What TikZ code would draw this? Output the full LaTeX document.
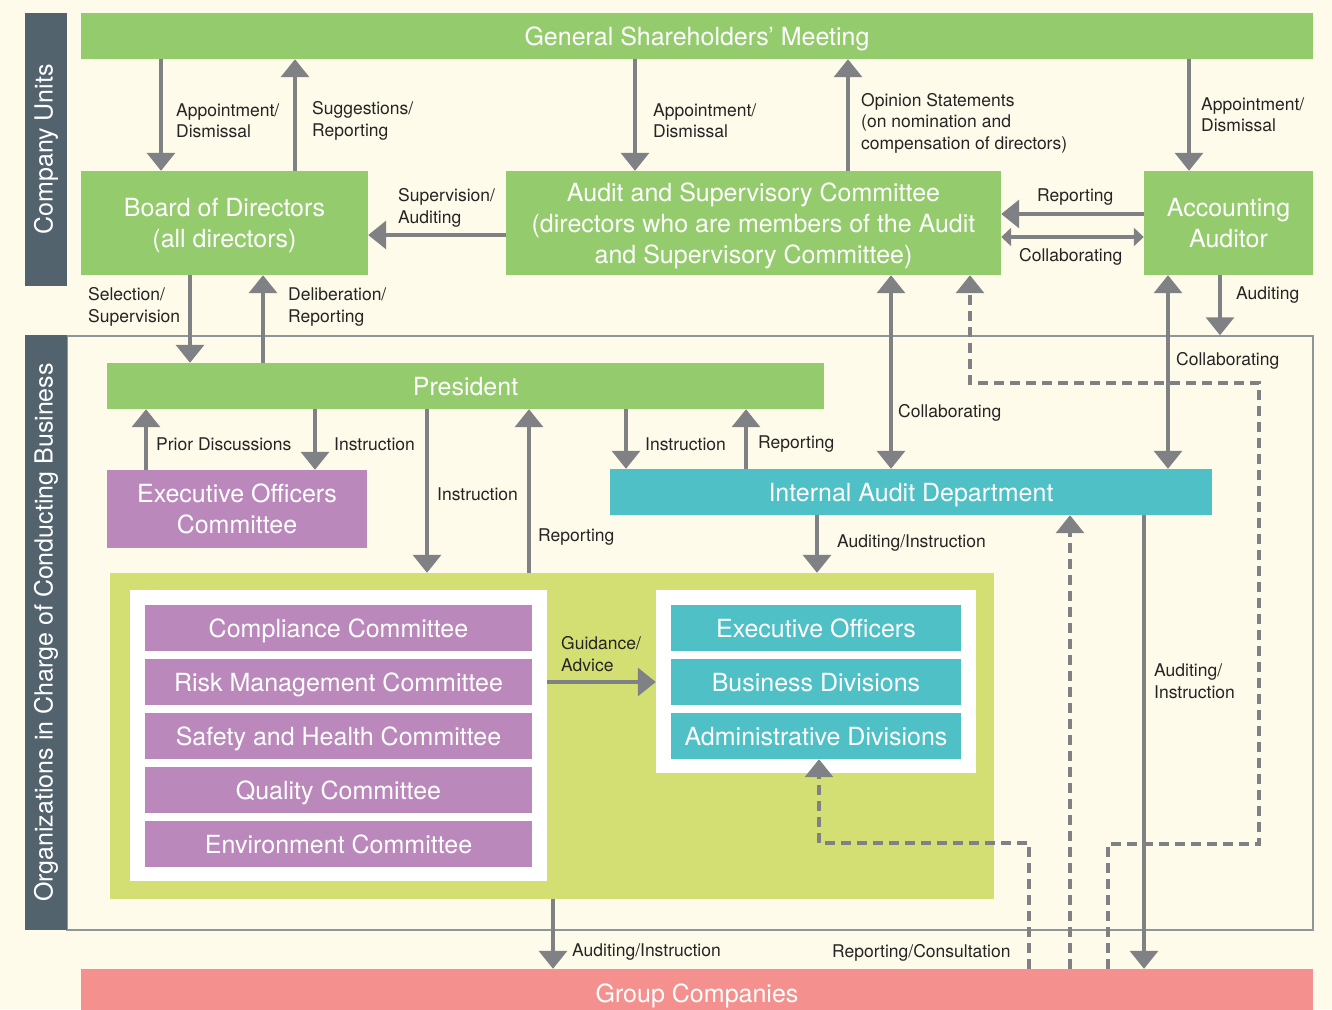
\documentclass[tikz,border=0pt]{standalone}
\usepackage{fontspec}
\setmainfont{TeX Gyre Heros}
\usepackage{xcolor}
\usepackage{tikz}
\usetikzlibrary{arrows.meta,positioning}
\definecolor{bgcream}   {RGB}{254,251,234}
\definecolor{boxgreen}  {RGB}{148,203,108}
\definecolor{boxpurple} {RGB}{186,136,187}
\definecolor{boxteal}   {RGB}{78,192,198}
\definecolor{boxolive}  {RGB}{212,223,115}
\definecolor{boxsalmon} {RGB}{244,145,142}
\definecolor{barslate}  {RGB}{82,99,110}
\definecolor{arrowgray} {RGB}{128,129,133}
\definecolor{framegray} {RGB}{140,150,155}
\definecolor{labelgray} {RGB}{38,36,36}
\newcommand\boxfont{\fontsize{25}{31}\selectfont}
\newcommand\lblfont{\fontsize{17.5}{21.5}\selectfont}

\begin{document}
\begin{tikzpicture}[x=1pt,y=-1pt,
  box/.style={inner sep=0pt,text=white,align=center,font=\boxfont,text depth=0pt},
  gbox/.style={box,fill=boxgreen},
  pbox/.style={box,fill=boxpurple,minimum width=387pt,minimum height=46pt},
  tbox/.style={box,fill=boxteal,minimum width=290pt,minimum height=46pt},
  bar/.style={fill=barslate,inner sep=0pt,minimum width=42pt,text=white,
              font=\boxfont,rotate=90},
  lbl/.style={font=\lblfont,text=labelgray,align=left,anchor=west,inner sep=0pt},
  arr/.style={draw=arrowgray,line width=3.5pt,-{Triangle[width=28pt,length=18pt]}},
  dbl/.style={draw=arrowgray,line width=3.5pt,
              {Triangle[width=28pt,length=18pt]}-{Triangle[width=28pt,length=18pt]}},
  sdbl/.style={draw=arrowgray,line width=3.5pt,
              {Triangle[width=18pt,length=10pt]}-{Triangle[width=18pt,length=10pt]}},
  dashln/.style={arr,dash pattern=on 10pt off 6pt},
]
\useasboundingbox (0,0) rectangle (1332,1009);
\fill[bgcream] (0,0) rectangle (1332,1009);

%% Frame of the business organisations
\node[draw=framegray,line width=1.5pt,inner sep=0pt,
      minimum width=1246pt,minimum height=594pt] (biz) at (690,633) {};

%% Side bars
\node[bar,minimum height=42pt,minimum width=273pt] (cubar) at (46,149.5) {Company Units};
\node[bar,minimum height=42pt,minimum width=595pt] (orgbar) at (46,632.5)
  {Organizations in Charge of Conducting Business};

%% Company units
\node[gbox,minimum width=1232pt,minimum height=46pt] (gsm) at (697,36)
  {General Shareholders’ Meeting};
\node[gbox,minimum width=287pt,minimum height=104pt] (bod) at (224.5,223)
  {Board of Directors\\(all directors)};
\node[gbox,minimum width=495pt,minimum height=104pt] (asc) at (753.5,223)
  {Audit and Supervisory Committee\\(directors who are members of the Audit\\and Supervisory Committee)};
\node[gbox,minimum width=169pt,minimum height=104pt] (aud) at (1228.5,223)
  {Accounting\\Auditor};

%% Business organisations
\node[gbox,minimum width=717pt,minimum height=46pt] (pres) at (465.5,386) {President};
\node[box,fill=boxpurple,minimum width=260pt,minimum height=78pt] (eoc) at (237,509)
  {Executive Officers\\Committee};
\node[box,fill=boxteal,minimum width=602pt,minimum height=46pt] (iad) at (911,492)
  {Internal Audit Department};
\node[fill=boxolive,minimum width=884pt,minimum height=326pt,inner sep=0pt] (olive) at (552,736) {};
\node[fill=white,minimum width=417pt,minimum height=291pt,inner sep=0pt] (lwhite) at (338.5,735.5) {};
\node[fill=white,minimum width=320pt,minimum height=183pt,inner sep=0pt] (rwhite) at (816,681.5) {};

%% Committees and divisions
\foreach \name/\txt [count=\i from 0] in {
  comp/Compliance Committee, risk/Risk Management Committee,
  safety/Safety and Health Committee, quality/Quality Committee,
  env/Environment Committee}{
  \node[pbox] (\name) at (338.5,628+\i*54) {\txt};
}
\foreach \name/\txt [count=\i from 0] in {
  eo/Executive Officers, busdiv/Business Divisions,
  admdiv/Administrative Divisions}{
  \node[tbox] (\name) at (816,628+\i*54) {\txt};
}

%% Group companies (runs off the page edge)
\node[box,fill=boxsalmon,minimum width=1232pt,minimum height=48pt] (grp) at (697,993)
  {Group Companies};

%% Dashed reporting lines
\draw[dashln] (1108,0 |- grp.north) -- (1108,844) -- (1259,844) -- (1259,383)
  -- (970,383) -- (970,0 |- asc.south);
\draw[dashln] (1029,0 |- grp.north) -- (1029,843) -- (819,843) -- (819,0 |- admdiv.south);
\draw[dashln] (1070,0 |- grp.north) -- (1070,0 |- iad.south);

%% Company unit arrows
\draw[arr] (161,0 |- gsm.south) -- (161,0 |- bod.north);
\draw[arr] (295,0 |- bod.north) -- (295,0 |- gsm.south);
\draw[arr] (635,0 |- gsm.south) -- (635,0 |- asc.north);
\draw[arr] (848,0 |- asc.north) -- (848,0 |- gsm.south);
\draw[arr] (1189,0 |- gsm.south) -- (1189,0 |- aud.north);
\draw[arr] (0,235 -| asc.west) -- (0,235 -| bod.east);
\draw[arr] (0,214 -| aud.west) -- (0,214 -| asc.east);
\draw[sdbl] (0,237 -| asc.east) -- (0,237 -| aud.west);

%% Between the two levels
\draw[arr] (190,0 |- bod.south) -- (190,0 |- pres.north);
\draw[arr] (263,0 |- pres.north) -- (263,0 |- bod.south);
\draw[dbl] (891,0 |- asc.south) -- (891,0 |- iad.north);
\draw[dbl] (1168,0 |- aud.south) -- (1168,0 |- iad.north);
\draw[arr] (1220,0 |- aud.south) -- (1220,0 |- biz.north);

%% Business organisation arrows
\draw[arr] (315,0 |- pres.south) -- (315,0 |- eoc.north);
\draw[arr] (146,0 |- eoc.north) -- (146,0 |- pres.south);
\draw[arr] (427,0 |- pres.south) -- (427,0 |- olive.north);
\draw[arr] (529,0 |- olive.north) -- (529,0 |- pres.south);
\draw[arr] (626,0 |- pres.south) -- (626,0 |- iad.north);
\draw[arr] (746,0 |- iad.north) -- (746,0 |- pres.south);
\draw[arr] (817,0 |- iad.south) -- (817,0 |- olive.north);
\draw[arr] (0,682 -| lwhite.east) -- (0,682 -| rwhite.west);
\draw[arr] (1144,0 |- iad.south) -- (1144,0 |- grp.north);
\draw[arr] (553,0 |- olive.south) -- (553,0 |- grp.north);

%% Labels
\node[lbl] (l-apbod) at (176,121) {Appointment/\\Dismissal};
\node[lbl] (l-sugg) at (312,121) {Suggestions/\\Reporting};
\node[lbl] (l-apasc) at (653,121) {Appointment/\\Dismissal};
\node[lbl] (l-opin) at (861,123)
  {Opinion Statements\\(on nomination and\\compensation of directors)};
\node[lbl] (l-apaud) at (1201,115) {Appointment/\\Dismissal};
\node[lbl] (l-supv) at (398,208) {Supervision/\\Auditing};
\node[lbl] (l-rep1) at (1037,197) {Reporting};
\node[lbl] (l-coll1) at (1019,257) {Collaborating};
\node[lbl] (l-sel) at (88,307) {Selection/\\Supervision};
\node[lbl] (l-delib) at (288,307) {Deliberation/\\Reporting};
\node[lbl] (l-coll2) at (898,413) {Collaborating};
\node[lbl] (l-coll3) at (1176,361) {Collaborating};
\node[lbl] (l-audt) at (1236,295) {Auditing};
\node[lbl] (l-prior) at (156,444) {Prior Discussions};
\node[lbl] (l-ins1) at (334,444) {Instruction};
\node[lbl] (l-ins2) at (437,494) {Instruction};
\node[lbl] (l-rep2) at (538,537) {Reporting};
\node[lbl] (l-ins3) at (645,444) {Instruction};
\node[lbl] (l-rep3) at (758,444) {Reporting};
\node[lbl] (l-audins1) at (837,543) {Auditing/Instruction};
\node[lbl] (l-guid) at (561,654) {Guidance/\\Advice};
\node[lbl] (l-audins2) at (1154,681) {Auditing/\\Instruction};
\node[lbl] (l-audins3) at (572,952) {Auditing/Instruction};
\node[lbl] (l-repcons) at (832,953) {Reporting/Consultation};

\end{tikzpicture}
\end{document}
